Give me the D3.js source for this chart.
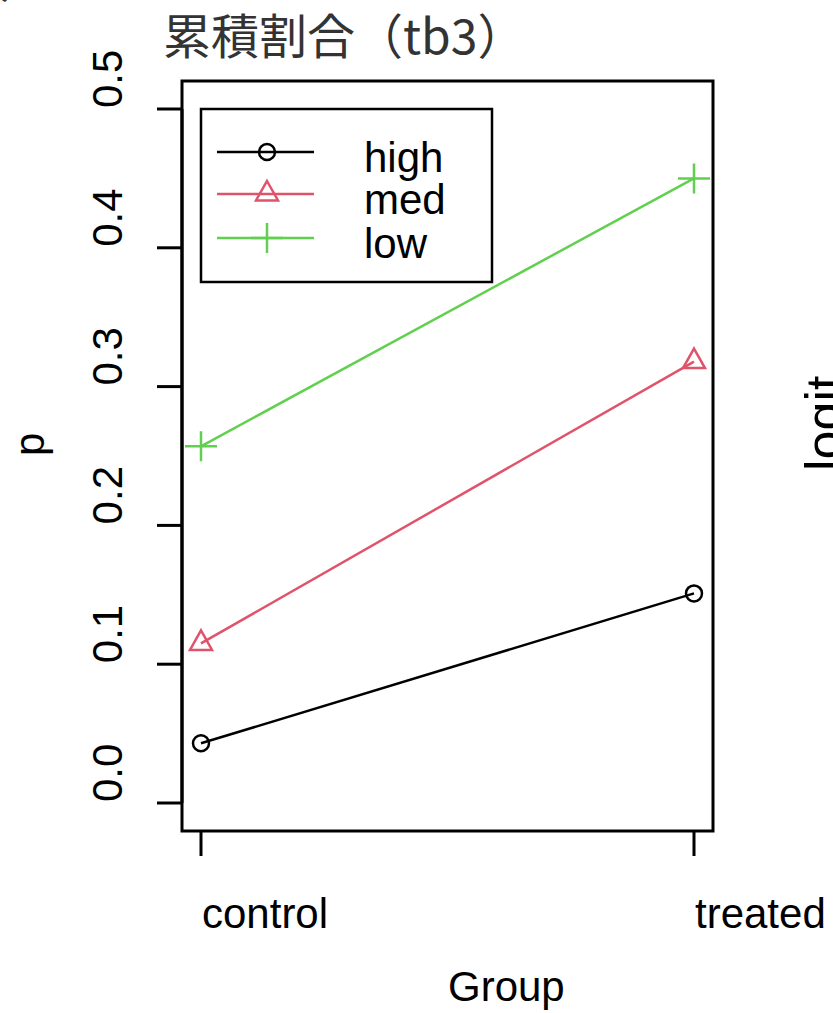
<!DOCTYPE html>
<html>
<head>
<meta charset="utf-8">
<script src="https://cdn.jsdelivr.net/npm/d3@7"></script>
<style>
  body { margin: 0; background: #fff; }
  text { font-family: "Liberation Sans", Arial, sans-serif; }
</style>
</head>
<body>
<div id="chart"></div>
<script>
// data
const groups = ["control", "treated"];
const seriesNames = ["high", "med", "low"];
const high = [0.043, 0.151];
const med = [0.115, 0.318];
const low = [0.257, 0.450];
const yTicks = [0, 0.1, 0.2, 0.3, 0.4, 0.5];

const colors = ["#000000", "#DF536B", "#61D04F"];
const W = 833, H = 1013;
const box = { left: 182, right: 713, top: 81, bottom: 831 };

const svg = d3.select("#chart").append("svg")
  .attr("width", W).attr("height", H);

// scales
const x = d3.scalePoint().domain(groups).range([201, 694]);
const y = d3.scaleLinear().domain([0, 0.5]).range([803, 109]);

// piece of the previous panel's title, cut at the top edge
svg.append("text")
  .attr("x", 0).attr("y", -3)
  .style("font-family", "'Noto Sans CJK JP'")
  .style("font-size", "48px")
  .attr("fill", "#333")
  .text("）");

// title
svg.append("text")
  .attr("x", 163).attr("y", 54)
  .style("font-family", "'Noto Sans CJK JP'")
  .style("font-size", "48px")
  .attr("fill", "#333")
  .text("累積割合（tb3）");

// plot box
svg.append("rect")
  .attr("x", box.left).attr("y", box.top)
  .attr("width", box.right - box.left).attr("height", box.bottom - box.top)
  .attr("fill", "none").attr("stroke", "#000").attr("stroke-width", 3);

// y axis
const gy = svg.append("g");
gy.selectAll("line").data(yTicks).enter().append("line")
  .attr("x1", 157).attr("x2", box.left)
  .attr("y1", d => y(d)).attr("y2", d => y(d))
  .attr("stroke", "#000").attr("stroke-width", 3);
gy.append("line")
  .attr("x1", box.left).attr("x2", box.left)
  .attr("y1", y(0)).attr("y2", y(0.5))
  .attr("stroke", "#000").attr("stroke-width", 3);
gy.selectAll("text").data(yTicks).enter().append("text")
  .attr("transform", d => "translate(122," + (y(d) - 1) + ") rotate(-90)")
  .style("font-size", "42px")
  .text(d => d3.format(".1f")(d));

// x axis
const gx = svg.append("g");
gx.selectAll("line").data(groups).enter().append("line")
  .attr("x1", d => x(d)).attr("x2", d => x(d))
  .attr("y1", box.bottom).attr("y2", 856)
  .attr("stroke", "#000").attr("stroke-width", 3);
gx.selectAll("text").data(groups).enter().append("text")
  .attr("x", d => x(d) + 1).attr("y", 928)
  .style("font-size", "42px")
  .text(d => d);

// axis titles
svg.append("text")
  .attr("x", 448).attr("y", 1001)
  .style("font-size", "42px")
  .text("Group");
svg.append("text")
  .attr("transform", "translate(44,456) rotate(-90)")
  .style("font-size", "42px")
  .text("p");
// label of the next panel, cut at the right edge
svg.append("text")
  .attr("transform", "translate(842,471) rotate(-90)")
  .style("font-size", "52px")
  .text("logit");

// symbols
function drawSymbol(g, i, cx, cy) {
  const c = colors[i];
  if (i === 0) {
    g.append("circle").attr("cx", cx).attr("cy", cy).attr("r", 8)
      .attr("fill", "none").attr("stroke", c).attr("stroke-width", 2.5);
  } else if (i === 1) {
    const r = 13, xc = 11, yc = 6.5;
    g.append("path")
      .attr("d", "M" + cx + "," + (cy - r) + "L" + (cx + xc) + "," + (cy + yc) +
        "L" + (cx - xc) + "," + (cy + yc) + "Z")
      .attr("fill", "none").attr("stroke", c).attr("stroke-width", 2.5);
  } else {
    g.append("path")
      .attr("d", "M" + (cx - 16) + "," + cy + "H" + (cx + 16) +
        "M" + cx + "," + (cy - 15) + "V" + (cy + 15))
      .attr("fill", "none").attr("stroke", c).attr("stroke-width", 2.5);
  }
}

// lines and points
const series = [high, med, low];
const line = d3.line().x((d, i) => x(groups[i])).y(d => y(d));
series.forEach((vals, i) => {
  const g = svg.append("g");
  g.append("path").datum(vals).attr("d", line)
    .attr("fill", "none").attr("stroke", colors[i]).attr("stroke-width", 2.5);
  vals.forEach((v, j) => drawSymbol(g, i, x(groups[j]), y(v)));
});

// legend
const lg = svg.append("g");
lg.append("rect")
  .attr("x", 201).attr("y", 109).attr("width", 291).attr("height", 173)
  .attr("fill", "#fff").attr("stroke", "#000").attr("stroke-width", 2.5);
const rowY = [152, 194, 238];
seriesNames.forEach((name, i) => {
  lg.append("line")
    .attr("x1", 217).attr("x2", 314).attr("y1", rowY[i]).attr("y2", rowY[i])
    .attr("stroke", colors[i]).attr("stroke-width", 2.5);
  drawSymbol(lg, i, 267, rowY[i]);
  lg.append("text")
    .attr("x", 364).attr("y", rowY[i] + 20)
    .style("font-size", "42px")
    .text(name);
});
</script>
</body>
</html>
